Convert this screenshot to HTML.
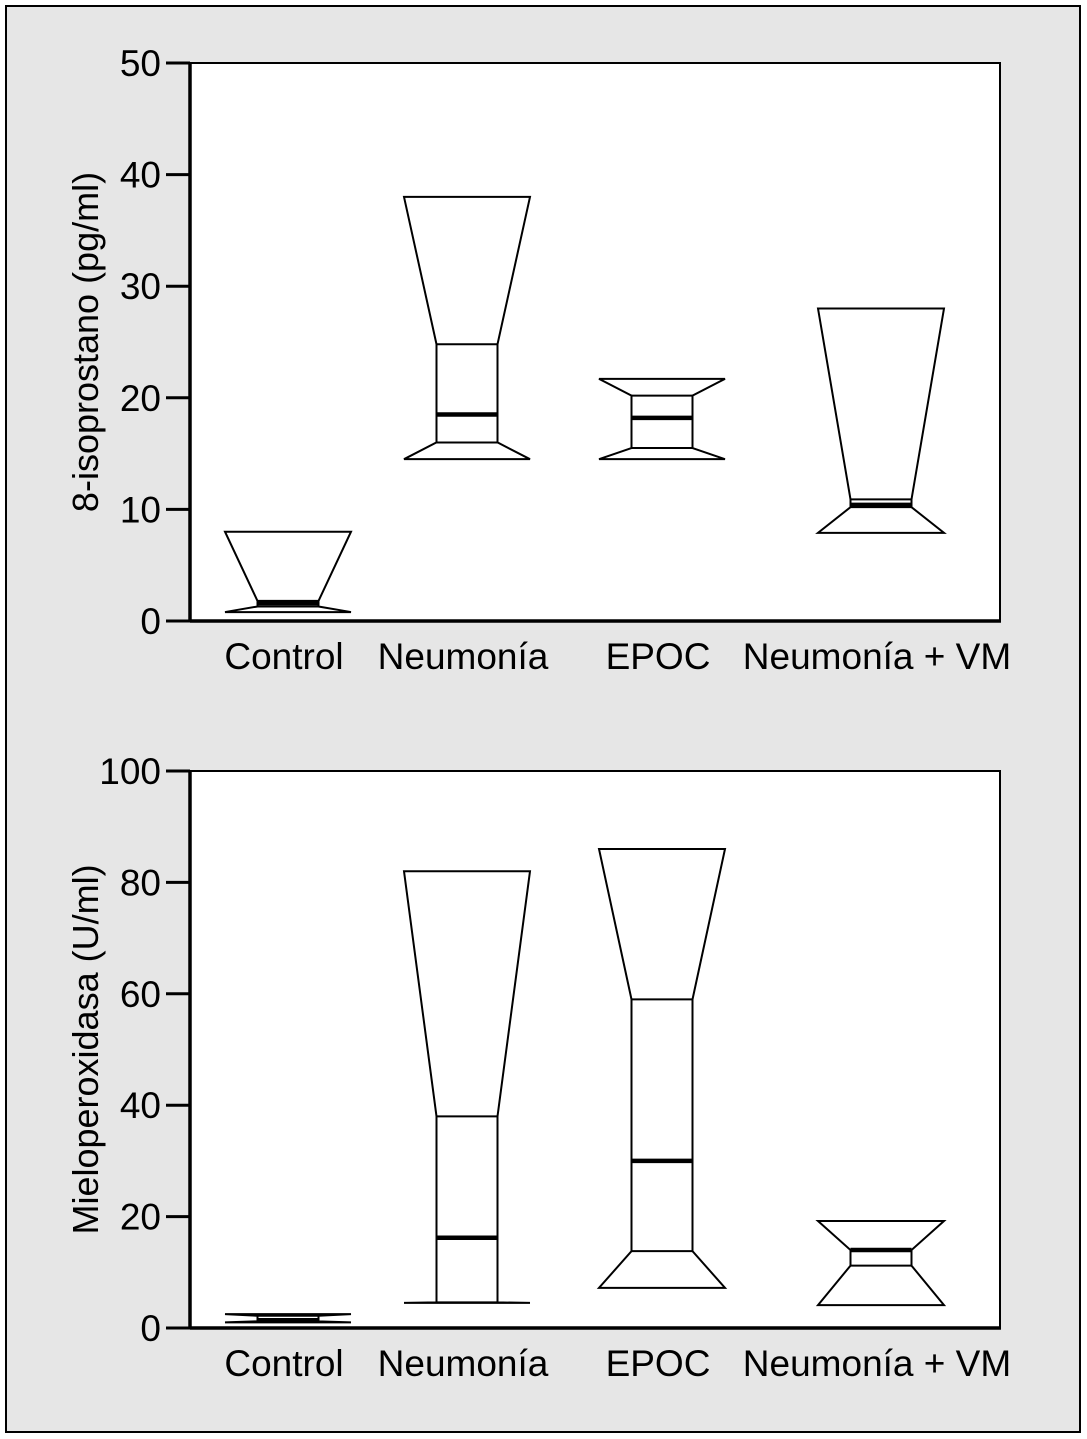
<!DOCTYPE html>
<html><head><meta charset="utf-8"><style>
body{margin:0;background:#fff}
svg{display:block}
text{font-family:"Liberation Sans",sans-serif;fill:#000}
</style></head><body>
<svg id="chart" width="1087" height="1439" xmlns="http://www.w3.org/2000/svg">
<rect x="6" y="6" width="1074" height="1426" fill="#e6e6e6" stroke="#000" stroke-width="2"/>
</svg>
<script>
const categories=["Control","Neumonía","EPOC","Neumonía + VM"];
const isoMax=[8,38,21.7,28];
const isoQ3=[1.8,24.8,20.2,10.9];
const isoMed=[1.6,18.5,18.2,10.4];
const isoQ1=[1.3,16,15.5,10.2];
const isoMin=[0.8,14.5,14.5,7.9];
const isoTicks=[0,10,20,30,40,50];
const mpoMax=[2.5,82,86,19.2];
const mpoQ3=[2.2,38,59,14];
const mpoMed=[1.4,16.2,30,14];
const mpoQ1=[1.2,4.6,13.8,11.2];
const mpoMin=[1.0,4.5,7.2,4.1];
const mpoTicks=[0,20,40,60,80,100];

const NS="http://www.w3.org/2000/svg";
const svg=document.getElementById('chart');
function mk(tag,attrs,parent){const e=document.createElementNS(NS,tag);for(const k in attrs)e.setAttribute(k,attrs[k]);(parent||svg).appendChild(e);return e;}
const centers=[288,467,662,881];
function panel(p,top,bottom,maxV,ticks,mx,q3,md,q1,mn,title,prefix){
  const L=190,R=1000;
  const y=v=>bottom-(v/maxV)*(bottom-top);
  const g=mk('g',{});
  
  
  const bg=mk('rect',{x:L,y:top,width:R-L,height:bottom-top,fill:'#fff',stroke:'#000','stroke-width':2},g);
  
  
  const ax=mk('line',{x1:L,y1:top,x2:L,y2:bottom+1.5,stroke:'#000','stroke-width':3.5},g);
  
  
  const bx=mk('line',{x1:L,y1:bottom,x2:R+1,y2:bottom,stroke:'#000','stroke-width':3.5},g);
  
  
  ticks.forEach(t=>{
    const tl=mk('line',{x1:166,x2:L,y1:y(t),y2:y(t),stroke:'#000','stroke-width':3},g);
    
    
    const tx=mk('text',{x:161,y:y(t)+13,'text-anchor':'end','font-size':37},g);
    tx.textContent=t;
    
    
  });
  const yt=mk('text',{transform:`translate(98,${(top+bottom)/2}) rotate(-90)`,'text-anchor':'middle','font-size':36},g);
  yt.textContent=title;
  
  
  categories.forEach((c,i)=>{
    const cx=centers[i],W=63,w=30.5;
    const pts=[[cx-W,y(mx[i])],[cx+W,y(mx[i])],[cx+w,y(q3[i])],[cx+w,y(q1[i])],[cx+W,y(mn[i])],[cx-W,y(mn[i])],[cx-w,y(q1[i])],[cx-w,y(q3[i])]];
    const bg2=mk('g',{},g);
    
    
    mk('polygon',{points:pts.map(p=>p.join(',')).join(' '),fill:'#fff',stroke:'#000','stroke-width':2,'stroke-linejoin':'miter'},bg2);
    mk('line',{x1:cx-w,x2:cx+w,y1:y(q3[i]),y2:y(q3[i]),stroke:'#000','stroke-width':2},bg2);
    mk('line',{x1:cx-w,x2:cx+w,y1:y(q1[i]),y2:y(q1[i]),stroke:'#000','stroke-width':2},bg2);
    const m=mk('line',{x1:cx-w,x2:cx+w,y1:y(md[i]),y2:y(md[i]),stroke:'#000','stroke-width':4.5},bg2);
    
    
    const lb=mk('text',{x:cx-4,y:bottom+48,'text-anchor':'middle','font-size':37},g);
    lb.textContent=c;
    
    
  });
}
panel(0,63,621,50,isoTicks,isoMax,isoQ3,isoMed,isoQ1,isoMin,'8-isoprostano (pg/ml)','isoprostane');
panel(1,771,1328,100,mpoTicks,mpoMax,mpoQ3,mpoMed,mpoQ1,mpoMin,'Mieloperoxidasa (U/ml)','mpo');
</script>
</body></html>
